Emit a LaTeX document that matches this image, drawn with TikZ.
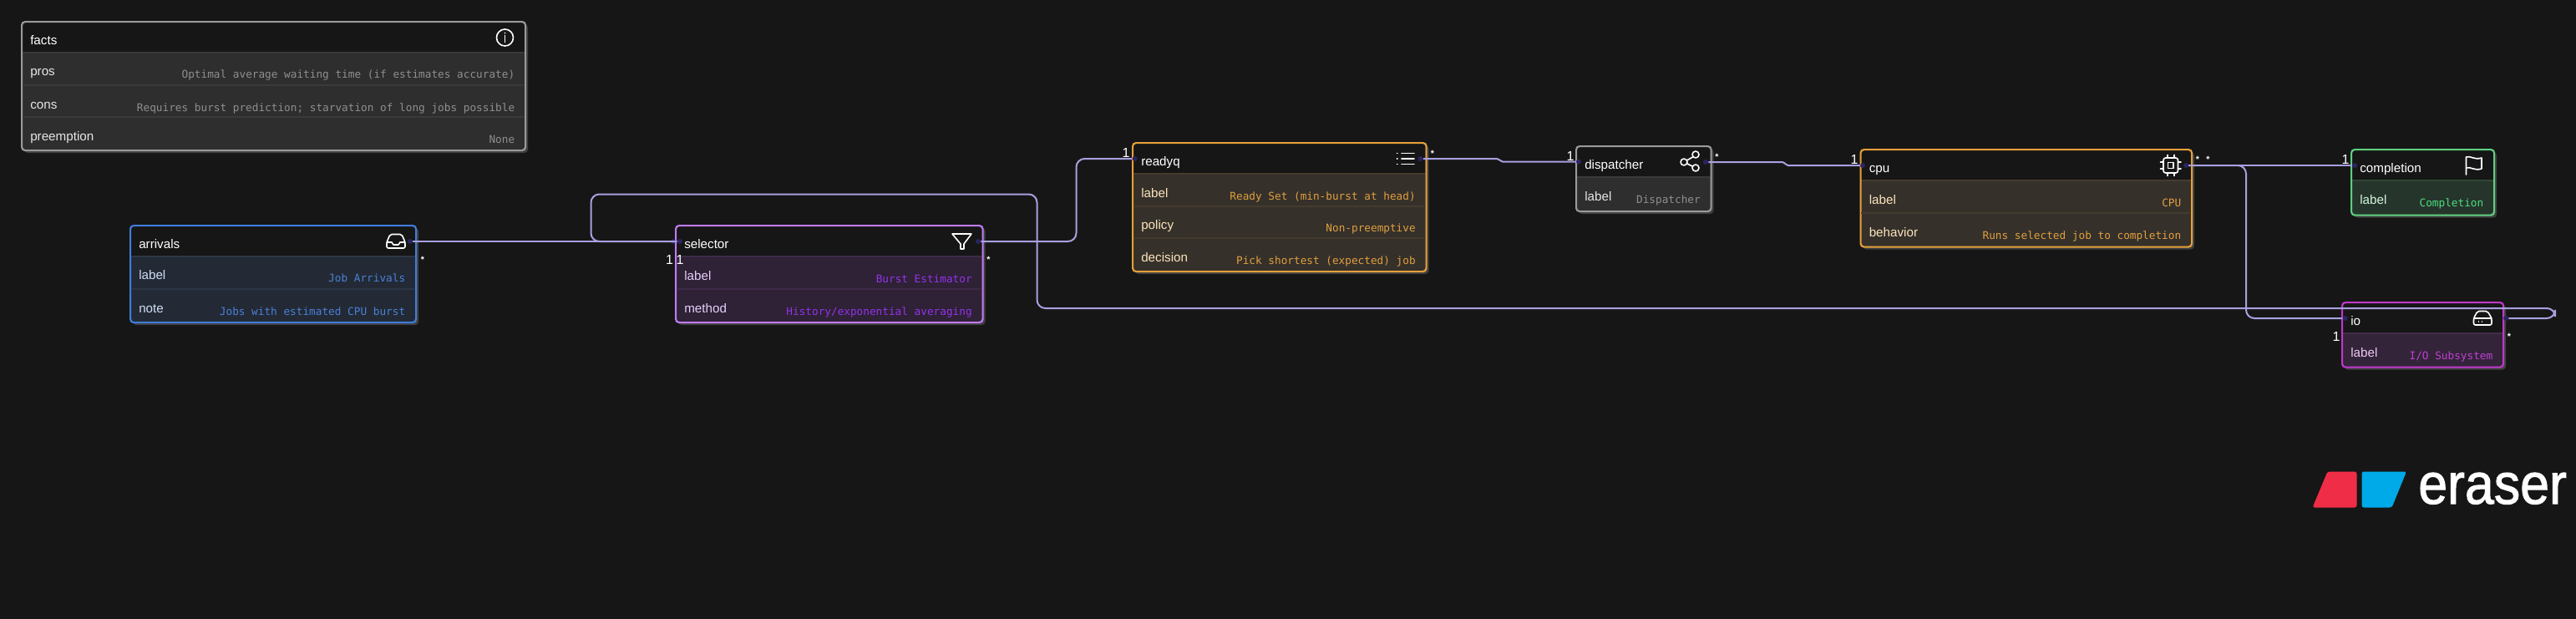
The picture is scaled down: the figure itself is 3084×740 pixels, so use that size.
\documentclass[tikz,border=0pt]{standalone}
\usepackage{fontspec}
\usepackage{graphicx}
\setmainfont{Liberation Sans}
\setmonofont{DejaVu Sans Mono}
\newfontfamily\logofont[FakeBold=1.6]{Liberation Sans}
\definecolor{bgc}{HTML}{161616}
\definecolor{conn}{HTML}{A8A0E0}
\definecolor{portc}{HTML}{2A2560}
\definecolor{shadowc}{HTML}{404040}
\newlength{\pxu}\setlength{\pxu}{0.75pt}
\tikzset{
  x=0.75pt,y=-0.75pt,
  keytext/.style={anchor=base west,inner sep=0pt,font=\fontsize{11.4pt}{12pt}\selectfont,text=keyc},
  valtext/.style={anchor=base east,inner sep=0pt,font=\ttfamily\fontsize{9.55pt}{11pt}\selectfont,text=valc},
  headtext/.style={anchor=base west,inner sep=0pt,font=\fontsize{11.4pt}{12pt}\selectfont,text=white},
  card/.style={draw=bdc,line width=1.6pt,rounded corners=3pt,anchor=north west,inner sep=0pt},
  port/.style={circle,fill=portc,draw=none,inner sep=0pt,minimum size=6\pxu},
  link/.style={draw=conn,line width=1.5pt,rounded corners=7.5pt},
  one/.style={inner sep=0pt,text=white,font=\fontsize{12pt}{12pt}\selectfont},
  many/.style={inner sep=0pt,text=white,font=\bfseries\fontsize{8pt}{9pt}\selectfont},
  icon/.style={draw=white,line width=1.2pt,line join=round,line cap=round},
}
\newcommand{\theme}[5]{\definecolor{bdc}{HTML}{#1}\definecolor{rowc}{HTML}{#2}\definecolor{sepc}{HTML}{#3}\definecolor{valc}{HTML}{#4}\definecolor{keyc}{HTML}{#5}}
% name x1 y1 x2 y2 title
\newcommand{\cardbox}[6]{%
  \fill[shadowc,rounded corners=3pt] (#2+4,#3+4) rectangle (#4+4,#5+4);
  \fill[rowc,rounded corners=3pt] (#2,#3) rectangle (#4,#5);
  \begin{scope}
    \clip[rounded corners=3pt] (#2,#3) rectangle (#4,#5);
    \fill[bgc] (#2,#3) rectangle (#4,#3+37);
    \draw[sepc,line width=1.5pt] (#2,#3+37.5) -- (#4,#3+37.5);
  \end{scope}
  \node[card,minimum width=#4\pxu-#2\pxu,minimum height=#5\pxu-#3\pxu] (#1) at (#2,#3) {};
  \node[headtext] (#1-title) at (#2+11,#3+28) {#6};
}
% name x1 x2 rowtop key value
\newcommand{\cardrow}[6]{%
  \node[keytext] (#1-#5-k) at (#2+11,#4+28) {#5};
  \node[valtext] (#1-#5-v) at (#3-11.5,#4+31) {#6};
}
\newcommand{\rowsep}[3]{\draw[sepc,line width=1.5pt] (#1+1.5,#3) -- (#2-1.5,#3);}
\begin{document}
\begin{tikzpicture}
\useasboundingbox (0,0) rectangle (3084,740);
\fill[bgc] (-10,-10) rectangle (3094,750);

% facts
\theme{9A9A9A}{2E2E2E}{3A3A3A}{8F8F8F}{E6E6E6}
\cardbox{facts}{25}{25}{628}{179}{facts}
\rowsep{25}{628}{102}\rowsep{25}{628}{140}
\cardrow{facts}{25}{628}{62}{pros}{Optimal average waiting time (if estimates accurate)}
\cardrow{facts}{25}{628}{102}{cons}{Requires burst prediction; starvation of long jobs possible}
\cardrow{facts}{25}{628}{140}{preemption}{None}
\draw[icon] (604.5,45) circle (10);
\draw[icon,line width=.5pt] (604.5,42) -- (604.5,51);
\fill[white] (604.5,39.5) circle (.8);

% arrivals
\theme{3F7DDB}{232A35}{2C3646}{4A80D8}{CFDCF5}
\cardbox{arrivals}{155}{269}{497}{385}{arrivals}
\rowsep{155}{497}{346}
\cardrow{arrivals}{155}{497}{306}{label}{Job Arrivals}
\cardrow{arrivals}{155}{497}{346}{note}{Jobs with estimated CPU burst}
\draw[icon,rounded corners=1.5pt] (463,290) -- (467,280.5) -- (481,280.5) -- (485,290) -- (485,297) -- (463,297) -- cycle;
\draw[icon] (463,290) -- (469,290) -- (471,293) -- (477,293) -- (479,290) -- (485,290);

% selector
\theme{C07BF5}{2F2136}{3D2A48}{9333EA}{E5CFFA}
\cardbox{selector}{808}{269}{1175.5}{385}{selector}
\rowsep{808}{1175.5}{346}
\cardrow{selector}{808}{1175.5}{307}{label}{Burst Estimator}
\cardrow{selector}{808}{1175.5}{346}{method}{History/exponential averaging}
\draw[icon] (1140,280) -- (1163,280) -- (1154,292) -- (1154,298) -- (1150,298) -- (1150,292) -- cycle;

% readyq
\theme{E5A03A}{35302A}{443B2E}{E0A040}{FBE4BC}
\cardbox{readyq}{1355}{170}{1706.5}{324}{readyq}
\rowsep{1355}{1706.5}{246.5}\rowsep{1355}{1706.5}{285}
\cardrow{readyq}{1355}{1706.5}{208}{label}{Ready Set (min-burst at head)}
\cardrow{readyq}{1355}{1706.5}{246.5}{policy}{Non-preemptive}
\cardrow{readyq}{1355}{1706.5}{285}{decision}{Pick shortest (expected) job}
\draw[icon] (1678,183.5) -- (1693,183.5) (1678,190) -- (1693,190) (1678,196.5) -- (1693,196.5);
\draw[icon] (1672.5,183.5) -- (1673,183.5) (1672.5,190) -- (1673,190) (1672.5,196.5) -- (1673,196.5);

% dispatcher
\theme{9A9A9A}{2E2E2E}{3A3A3A}{8F8F8F}{E6E6E6}
\cardbox{dispatcher}{1886}{174}{2047.5}{252}{dispatcher}
\cardrow{dispatcher}{1886}{2047.5}{212}{label}{Dispatcher}
\draw[icon] (2016,194) -- (2030,186) (2016,194) -- (2030,201);
\draw[icon,fill=bgc] (2030,185) circle (4) (2016,194) circle (4) (2030,201) circle (4);

% cpu
\theme{E5A03A}{35302A}{443B2E}{E0A040}{FBE4BC}
\cardbox{cpu}{2226.5}{178}{2623}{294.5}{cpu}
\rowsep{2226.5}{2623}{255}
\cardrow{cpu}{2226.5}{2623}{216}{label}{CPU}
\cardrow{cpu}{2226.5}{2623}{255}{behavior}{Runs selected job to completion}
\draw[icon,rounded corners=2pt] (2590,189) rectangle (2607.5,207);
\draw[icon] (2595.5,194.5) rectangle (2602,201.5);
\draw[icon] (2595,189) -- (2595,185.5) (2603,189) -- (2603,185.5) (2595,207) -- (2595,210.5) (2603,207) -- (2603,210.5) (2590,194) -- (2586.5,194) (2590,202) -- (2586.5,202) (2607.5,194) -- (2611,194) (2607.5,202) -- (2611,202);

% completion
\theme{5FCF80}{26352B}{2F4536}{4ADE80}{D0F5DC}
\cardbox{completion}{2814}{178}{2985}{256.5}{completion}
\cardrow{completion}{2814}{2985}{216}{label}{Completion}
\draw[icon] (2952.5,209) -- (2952.5,188) .. controls (2958,186) and (2962,192) .. (2971,189) -- (2971,202) .. controls (2962,205) and (2958,199) .. (2952.5,201);

% io
\theme{C038CC}{33243A}{432C4A}{C040D0}{EEC8F0}
\cardbox{io}{2803}{361}{2996}{438.5}{io}
\cardrow{io}{2803}{2996}{399}{label}{I/O Subsystem}
\draw[icon,rounded corners=1.5pt] (2961.5,389) -- (2961.5,381) -- (2966,372.5) -- (2978,372.5) -- (2983,381) -- (2983,389) -- cycle;
\draw[icon] (2961.5,381) -- (2983,381);
\draw[icon,line width=.5pt] (2967,384.5) -- (2967,385.5) (2971,384.5) -- (2971,385.5);

% ports
\node[port] (arrivalsOut) at (491,289) {};
\node[port] (selectorIn) at (806,289) {};
\node[port] (selectorLoop) at (814,289) {};
\node[port] (selectorOut) at (1171,289) {};
\node[port] (readyqIn) at (1358.5,190) {};
\node[port] (readyqOut) at (1700.5,190) {};
\node[port] (dispatcherIn) at (1890,193.5) {};
\node[port] (dispatcherOut) at (2042,194) {};
\node[port] (cpuIn) at (2230,198) {};
\node[port] (cpuOut) at (2617,198) {};
\node[port] (completionIn) at (2819,198) {};
\node[port] (ioIn) at (2807.5,381) {};
\node[port] (ioOut) at (3000,381) {};

% route points
\coordinate (bendA) at (1288.5,289);
\coordinate (bendB) at (1288.5,190);
\coordinate (bendC) at (2689,198);
\coordinate (bendD) at (2689,381);
\coordinate (loopA) at (3059,381);
\coordinate (loopB) at (3059,369);
\coordinate (loopC) at (1241.5,369);
\coordinate (loopD) at (1241.5,232.5);
\coordinate (loopE) at (707.5,232.5);
\coordinate (loopF) at (707.5,289);

\draw[link] (arrivalsOut) -- (selectorIn);
\draw[link] (selectorOut) -- (bendA) -- (bendB) -- (readyqIn);
\draw[link,rounded corners=1.5pt] (readyqOut) -- (1794,190) -- (1797,193.5) -- (dispatcherIn);
\draw[link,rounded corners=1.5pt] (dispatcherOut) -- (2136,194) -- (2138.5,198) -- (cpuIn);
\draw[link] (cpuOut) -- (completionIn);
\draw[link] (cpuOut) -- (bendC) -- (bendD) -- (ioIn);
\draw[link] (ioOut) -- (loopA) -- (loopB) -- (loopC) -- (loopD) -- (loopE) -- (loopF) -- (selectorLoop);

% cardinalities
\node[one] (m1) at (801.5,310.5) {1};
\node[one] (m2) at (814,310.5) {1};
\node[one] (m3) at (1348,183) {1};
\node[one] (m4) at (1880,187) {1};
\node[one] (m5) at (2220,191) {1};
\node[one] (m6) at (2808,191) {1};
\node[one] (m7) at (2797,403) {1};
\node[many] (s1) at (506,311) {*};
\node[many] (s2) at (1183.5,311) {*};
\node[many] (s3) at (1715,184) {*};
\node[many] (s4) at (2055.5,188) {*};
\node[many] (s5) at (2631,191) {*};
\node[many] (s6) at (2643.5,191) {*};
\node[many] (s7) at (3004,403) {*};

% logo
\fill[fill={rgb,255:red,239;green,45;blue,70},rounded corners=2pt] (2786.5,564.5) -- (2821.5,564.5) -- (2821.5,607.5) -- (2768.5,607.5) -- cycle;
\fill[fill={rgb,255:red,0;green,169;blue,232},rounded corners=2pt] (2827.5,564.5) -- (2881,564.5) -- (2863.5,607.5) -- (2827.5,607.5) -- cycle;
\node[anchor=base west,inner sep=0pt,text=white] (logo) at (2895,603) {\scalebox{1}[1.1]{\logofont\fontsize{47pt}{48pt}\selectfont eraser}};
\end{tikzpicture}
\end{document}
